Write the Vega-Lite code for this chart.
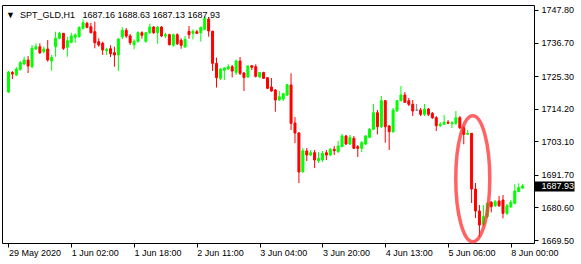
{
  "$schema": "https://vega.github.io/schema/vega-lite/v6.json",
  "width": 532,
  "height": 238,
  "autosize": {"type": "none"},
  "padding": {"left": 2, "top": 5, "right": 47, "bottom": 21},
  "background": "white",
  "config": {
    "view": {"stroke": "black", "strokeWidth": 1},
    "axis": {"labelFont": "Liberation Sans", "labelFontSize": 9, "labelColor": "black", "tickColor": "black", "domain": false, "grid": false, "title": null, "labelFlush": false, "labelOverlap": false, "labelBound": false}
  },
  "title": {"text": "▼\u00a0\u00a0SPT_GLD,H1\u00a0\u00a0\u00a01687.16 1688.63 1687.13 1687.93", "anchor": "start", "frame": "group", "offset": -22, "baseline": "alphabetic", "dx": 4, "font": "Liberation Sans", "fontSize": 9, "fontWeight": "normal", "color": "black"},
  "datasets": {
    "bars": [
      {"i":0,"o":1719.88,"h":1727.03,"l":1719.54,"c":1726.69},
      {"i":1,"o":1726.52,"h":1727.03,"l":1724.31,"c":1726.01},
      {"i":2,"o":1725.67,"h":1728.39,"l":1725.33,"c":1727.71},
      {"i":3,"o":1727.61,"h":1730.44,"l":1727.13,"c":1729.86},
      {"i":4,"o":1729.41,"h":1731.90,"l":1729.07,"c":1730.78},
      {"i":5,"o":1730.78,"h":1732.14,"l":1726.35,"c":1728.73},
      {"i":6,"o":1728.50,"h":1735.88,"l":1727.95,"c":1734.76},
      {"i":7,"o":1734.52,"h":1736.46,"l":1734.18,"c":1735.30},
      {"i":8,"o":1735.30,"h":1736.46,"l":1732.82,"c":1733.26},
      {"i":9,"o":1733.60,"h":1735.30,"l":1733.06,"c":1734.52},
      {"i":10,"o":1734.52,"h":1737.58,"l":1730.20,"c":1730.78},
      {"i":11,"o":1730.44,"h":1732.48,"l":1727.13,"c":1731.70},
      {"i":12,"o":1735.30,"h":1740.41,"l":1731.90,"c":1738.16},
      {"i":13,"o":1738.16,"h":1740.41,"l":1737.82,"c":1739.86},
      {"i":14,"o":1739.86,"h":1739.97,"l":1734.18,"c":1734.76},
      {"i":15,"o":1735.10,"h":1738.71,"l":1731.90,"c":1737.35},
      {"i":16,"o":1736.80,"h":1740.07,"l":1736.46,"c":1738.95},
      {"i":17,"o":1738.50,"h":1739.86,"l":1736.66,"c":1739.29},
      {"i":18,"o":1738.71,"h":1742.35,"l":1738.37,"c":1741.77},
      {"i":19,"o":1741.57,"h":1744.63,"l":1741.23,"c":1743.47},
      {"i":20,"o":1743.27,"h":1743.81,"l":1741.57,"c":1741.91},
      {"i":21,"o":1742.11,"h":1743.47,"l":1739.86,"c":1740.07},
      {"i":22,"o":1740.41,"h":1743.81,"l":1734.76,"c":1736.66},
      {"i":23,"o":1737.01,"h":1738.16,"l":1735.30,"c":1735.88},
      {"i":24,"o":1736.46,"h":1737.01,"l":1732.48,"c":1734.18},
      {"i":25,"o":1733.94,"h":1734.96,"l":1732.48,"c":1734.42},
      {"i":26,"o":1734.62,"h":1735.78,"l":1731.80,"c":1732.92},
      {"i":27,"o":1733.26,"h":1735.30,"l":1728.50,"c":1732.48},
      {"i":28,"o":1732.48,"h":1738.26,"l":1727.03,"c":1737.92},
      {"i":29,"o":1738.61,"h":1742.01,"l":1737.92,"c":1740.89},
      {"i":30,"o":1740.89,"h":1741.67,"l":1738.26,"c":1738.95},
      {"i":31,"o":1738.95,"h":1739.63,"l":1735.88,"c":1736.66},
      {"i":32,"o":1735.98,"h":1737.82,"l":1734.42,"c":1737.14},
      {"i":33,"o":1737.14,"h":1740.55,"l":1736.66,"c":1740.07},
      {"i":34,"o":1740.07,"h":1740.55,"l":1738.03,"c":1739.18},
      {"i":35,"o":1737.14,"h":1740.31,"l":1736.66,"c":1740.07},
      {"i":36,"o":1740.07,"h":1743.13,"l":1739.63,"c":1742.01},
      {"i":37,"o":1742.01,"h":1742.35,"l":1739.63,"c":1740.07},
      {"i":38,"o":1740.07,"h":1742.25,"l":1736.32,"c":1742.01},
      {"i":39,"o":1742.01,"h":1742.35,"l":1738.61,"c":1738.95},
      {"i":40,"o":1738.95,"h":1740.07,"l":1738.26,"c":1739.39},
      {"i":41,"o":1739.39,"h":1739.73,"l":1735.78,"c":1735.98},
      {"i":42,"o":1735.78,"h":1739.73,"l":1735.30,"c":1739.39},
      {"i":43,"o":1739.39,"h":1739.86,"l":1735.88,"c":1736.32},
      {"i":44,"o":1737.48,"h":1738.16,"l":1734.62,"c":1735.78},
      {"i":45,"o":1735.20,"h":1738.95,"l":1734.96,"c":1737.82},
      {"i":46,"o":1740.55,"h":1742.35,"l":1738.03,"c":1739.39},
      {"i":47,"o":1739.86,"h":1741.23,"l":1737.82,"c":1740.55},
      {"i":48,"o":1740.41,"h":1740.99,"l":1739.73,"c":1739.86},
      {"i":49,"o":1740.07,"h":1742.11,"l":1737.01,"c":1741.91},
      {"i":50,"o":1741.23,"h":1745.65,"l":1740.89,"c":1744.97},
      {"i":51,"o":1744.73,"h":1745.41,"l":1738.71,"c":1740.65},
      {"i":52,"o":1740.55,"h":1740.75,"l":1727.03,"c":1729.65},
      {"i":53,"o":1729.65,"h":1731.56,"l":1721.41,"c":1724.75},
      {"i":54,"o":1724.55,"h":1728.05,"l":1723.97,"c":1727.71},
      {"i":55,"o":1727.27,"h":1728.39,"l":1723.97,"c":1728.05},
      {"i":56,"o":1727.71,"h":1729.31,"l":1727.37,"c":1728.50},
      {"i":57,"o":1728.50,"h":1729.07,"l":1724.82,"c":1727.03},
      {"i":58,"o":1726.52,"h":1730.95,"l":1725.67,"c":1730.44},
      {"i":59,"o":1730.44,"h":1731.80,"l":1725.67,"c":1726.25},
      {"i":60,"o":1726.35,"h":1726.69,"l":1720.22,"c":1724.82},
      {"i":61,"o":1724.99,"h":1729.07,"l":1724.65,"c":1728.73},
      {"i":62,"o":1728.84,"h":1729.07,"l":1727.37,"c":1728.29},
      {"i":63,"o":1728.50,"h":1729.31,"l":1724.82,"c":1725.23},
      {"i":64,"o":1724.99,"h":1726.69,"l":1724.65,"c":1726.52},
      {"i":65,"o":1726.52,"h":1726.79,"l":1724.31,"c":1724.55},
      {"i":66,"o":1724.75,"h":1724.99,"l":1720.90,"c":1721.14},
      {"i":67,"o":1721.59,"h":1724.65,"l":1719.99,"c":1720.22},
      {"i":68,"o":1720.56,"h":1720.90,"l":1713.18,"c":1717.16},
      {"i":69,"o":1717.16,"h":1720.22,"l":1716.82,"c":1718.28},
      {"i":70,"o":1717.50,"h":1719.54,"l":1716.82,"c":1719.31},
      {"i":71,"o":1718.86,"h":1722.61,"l":1718.52,"c":1722.37},
      {"i":72,"o":1722.27,"h":1726.25,"l":1706.95,"c":1709.23},
      {"i":73,"o":1709.33,"h":1711.37,"l":1702.52,"c":1705.93},
      {"i":74,"o":1705.93,"h":1706.27,"l":1688.91,"c":1692.65},
      {"i":75,"o":1692.75,"h":1700.82,"l":1692.31,"c":1699.90},
      {"i":76,"o":1699.80,"h":1700.82,"l":1696.40,"c":1698.44},
      {"i":77,"o":1698.44,"h":1700.14,"l":1698.10,"c":1699.22},
      {"i":78,"o":1699.22,"h":1700.14,"l":1694.01,"c":1696.74},
      {"i":79,"o":1696.50,"h":1699.46,"l":1695.71,"c":1697.31},
      {"i":80,"o":1696.74,"h":1699.80,"l":1696.06,"c":1699.02},
      {"i":81,"o":1699.22,"h":1700.14,"l":1696.74,"c":1698.44},
      {"i":82,"o":1698.44,"h":1700.82,"l":1698.10,"c":1700.38},
      {"i":83,"o":1700.38,"h":1701.50,"l":1698.44,"c":1699.90},
      {"i":84,"o":1699.56,"h":1703.20,"l":1699.12,"c":1701.50},
      {"i":85,"o":1701.26,"h":1705.59,"l":1701.16,"c":1704.91},
      {"i":86,"o":1704.91,"h":1705.25,"l":1701.84,"c":1702.18},
      {"i":87,"o":1702.18,"h":1705.25,"l":1701.84,"c":1704.46},
      {"i":88,"o":1704.12,"h":1704.91,"l":1700.48,"c":1700.72},
      {"i":89,"o":1701.26,"h":1701.84,"l":1697.76,"c":1700.72},
      {"i":90,"o":1700.72,"h":1703.20,"l":1699.46,"c":1702.63},
      {"i":91,"o":1702.18,"h":1705.25,"l":1701.84,"c":1704.91},
      {"i":92,"o":1704.46,"h":1707.63,"l":1704.22,"c":1707.19},
      {"i":93,"o":1707.19,"h":1715.80,"l":1706.95,"c":1712.84},
      {"i":94,"o":1712.84,"h":1713.76,"l":1705.48,"c":1708.07},
      {"i":95,"o":1708.07,"h":1718.52,"l":1707.63,"c":1716.92},
      {"i":96,"o":1716.92,"h":1717.16,"l":1702.63,"c":1708.07},
      {"i":97,"o":1708.31,"h":1708.65,"l":1700.14,"c":1706.37},
      {"i":98,"o":1706.37,"h":1714.44,"l":1705.93,"c":1713.76},
      {"i":99,"o":1713.52,"h":1717.16,"l":1713.08,"c":1716.92},
      {"i":100,"o":1716.92,"h":1721.93,"l":1716.82,"c":1718.86},
      {"i":101,"o":1718.86,"h":1719.88,"l":1716.14,"c":1716.38},
      {"i":102,"o":1716.92,"h":1717.84,"l":1715.12,"c":1715.70},
      {"i":103,"o":1715.70,"h":1717.16,"l":1711.71,"c":1713.42},
      {"i":104,"o":1713.76,"h":1715.80,"l":1713.42,"c":1713.76},
      {"i":105,"o":1713.76,"h":1714.44,"l":1711.71,"c":1712.29},
      {"i":106,"o":1712.29,"h":1715.80,"l":1711.71,"c":1714.10},
      {"i":107,"o":1714.10,"h":1714.44,"l":1711.71,"c":1712.29},
      {"i":108,"o":1712.63,"h":1713.08,"l":1710.69,"c":1711.13},
      {"i":109,"o":1711.13,"h":1711.71,"l":1706.61,"c":1708.41},
      {"i":110,"o":1708.41,"h":1709.67,"l":1707.97,"c":1708.89},
      {"i":111,"o":1708.89,"h":1712.05,"l":1708.65,"c":1709.57},
      {"i":112,"o":1709.57,"h":1710.35,"l":1708.99,"c":1709.23},
      {"i":113,"o":1709.09,"h":1710.01,"l":1707.63,"c":1709.43},
      {"i":114,"o":1709.23,"h":1713.42,"l":1708.65,"c":1711.13},
      {"i":115,"o":1711.13,"h":1711.71,"l":1707.29,"c":1707.73},
      {"i":116,"o":1707.73,"h":1708.31,"l":1702.08,"c":1705.48},
      {"i":117,"o":1705.48,"h":1706.95,"l":1705.25,"c":1705.83},
      {"i":118,"o":1705.83,"h":1705.93,"l":1682.10,"c":1686.86},
      {"i":119,"o":1686.86,"h":1688.91,"l":1676.99,"c":1679.38},
      {"i":120,"o":1679.38,"h":1681.42,"l":1670.53,"c":1674.61},
      {"i":121,"o":1674.85,"h":1681.42,"l":1674.27,"c":1677.44},
      {"i":122,"o":1677.44,"h":1682.44,"l":1676.99,"c":1682.00},
      {"i":123,"o":1682.34,"h":1682.78,"l":1678.93,"c":1680.84},
      {"i":124,"o":1681.18,"h":1683.12,"l":1680.74,"c":1682.54},
      {"i":125,"o":1682.78,"h":1684.48,"l":1680.74,"c":1681.18},
      {"i":126,"o":1683.12,"h":1684.82,"l":1676.89,"c":1678.59},
      {"i":127,"o":1678.59,"h":1681.76,"l":1678.01,"c":1681.18},
      {"i":128,"o":1680.84,"h":1683.12,"l":1680.40,"c":1682.34},
      {"i":129,"o":1682.00,"h":1688.46,"l":1681.76,"c":1686.18},
      {"i":130,"o":1685.95,"h":1688.81,"l":1685.84,"c":1687.31},
      {"i":131,"o":1687.16,"h":1688.63,"l":1687.13,"c":1687.93}
    ],
    "highlight": [{"i": 118.3, "p": 1690.4}],
    "last": [{"p": 1687.93}]
  },
  "layer": [
    {
      "data": {"name": "bars"},
      "mark": {"type": "rule", "strokeWidth": 1},
      "encoding": {
        "x": {"field": "i", "type": "quantitative", "scale": {"domain": [-0.375, 132.625], "nice": false, "zero": false},
          "axis": {"orient": "bottom", "values": [0, 16, 32, 48, 64, 80, 96, 112, 128], "labelExpr": "['29 May 2020','1 Jun 02:00','1 Jun 18:00','2 Jun 11:00','3 Jun 04:00','3 Jun 20:00','4 Jun 13:00','5 Jun 06:00','8 Jun 00:00'][round(datum.value/16)]", "labelAlign": "left", "labelBaseline": "top", "labelPadding": 1, "labelDx": 1, "tickSize": 4}},
        "y": {"field": "l", "type": "quantitative", "scale": {"domain": [1668.49, 1749.5], "nice": false, "zero": false},
          "axis": {"orient": "right", "values": [1747.8, 1736.7, 1725.3, 1714.2, 1703.1, 1691.7, 1680.6, 1669.5], "format": ".2f", "labelAlign": "left", "labelBaseline": "middle", "tickSize": 4, "labelPadding": 3}},
        "y2": {"field": "h"},
        "color": {"condition": [{"test": "datum.c > datum.o", "value": "#00ff00"}, {"test": "datum.c < datum.o", "value": "#ff0000"}], "value": "#808080"}
      }
    },
    {
      "data": {"name": "bars"},
      "mark": {"type": "bar", "size": 2, "strokeWidth": 1},
      "encoding": {
        "x": {"field": "i", "type": "quantitative", "scale": {"domain": [-0.375, 132.625], "nice": false, "zero": false}},
        "y": {"field": "o", "type": "quantitative", "scale": {"domain": [1668.49, 1749.5], "nice": false, "zero": false}, "axis": null},
        "y2": {"field": "c"},
        "fill": {"condition": [{"test": "datum.c > datum.o", "value": "#00ff00"}, {"test": "datum.c < datum.o", "value": "#ff0000"}], "value": "#808080"},
        "stroke": {"condition": [{"test": "datum.c > datum.o", "value": "#00ff00"}, {"test": "datum.c < datum.o", "value": "#ff0000"}], "value": "#808080"}
      }
    },
    {
      "data": {"name": "highlight"},
      "mark": {"type": "point", "shape": "M0,-1C0.149,-1,0.27,-0.552,0.27,0C0.27,0.552,0.149,1,0,1C-0.149,1,-0.27,0.552,-0.27,0C-0.27,-0.552,-0.149,-1,0,-1Z", "size": 15876, "filled": false, "stroke": "#ff3030", "strokeWidth": 3.5, "opacity": 0.75},
      "encoding": {
        "x": {"field": "i", "type": "quantitative", "scale": {"domain": [-0.375, 132.625], "nice": false, "zero": false}},
        "y": {"field": "p", "type": "quantitative", "scale": {"domain": [1668.49, 1749.5], "nice": false, "zero": false}, "axis": null}
      }
    },
    {
      "data": {"name": "last"},
      "mark": {"type": "rule", "opacity": 0},
      "encoding": {
        "y": {"field": "p", "type": "quantitative", "scale": {"domain": [1668.49, 1749.5], "nice": false, "zero": false},
          "axis": {"orient": "right", "values": [1687.93], "format": ".2f", "labelAlign": "left", "labelBaseline": "middle", "tickSize": 40, "tickWidth": 10, "tickColor": "black", "labelColor": "white", "labelPadding": -33}}
      }
    }
  ],
  "resolve": {"axis": {"y": "independent"}}
}
